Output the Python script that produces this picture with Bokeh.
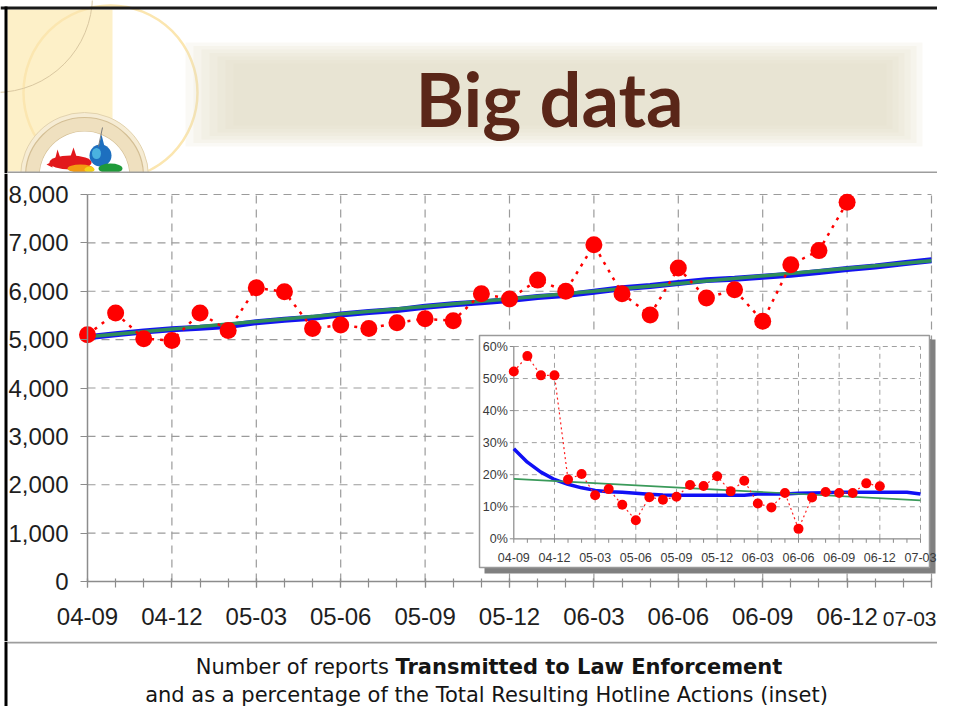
from bokeh.plotting import figure
from bokeh.models import Range1d, LinearAxis, FixedTicker, NumeralTickFormatter
from bokeh.layouts import column
from bokeh.core.properties import value
from bokeh.embed import file_html
from bokeh.resources import INLINE

# ---------------- data ----------------
title_text = "Big data"
caption_plain = "Number of reports "
caption_bold = "Transmitted to Law Enforcement"
caption_line2 = "and as a percentage of the Total Resulting Hotline Actions (inset)"

month_tick_labels = ["04-09", "04-12", "05-03", "05-06", "05-09", "05-12",
                     "06-03", "06-06", "06-09", "06-12", "07-03"]
month_tick_pos = [0, 3, 6, 9, 12, 15, 18, 21, 24, 27, 30]
all_months = list(range(31))
point_months = list(range(28))

reports = [5100, 5550, 5020, 4980, 5550, 5190, 6070, 5990, 5230, 5300,
           5230, 5350, 5430, 5390, 5950, 5840, 6230, 6000, 6960, 5950,
           5510, 6480, 5860, 6030, 5380, 6550, 6840, 7840]
reports_trend_blue = [5050, 5110, 5170, 5215, 5245, 5280, 5360, 5410, 5450, 5520,
                      5570, 5610, 5680, 5730, 5770, 5820, 5880, 5920, 5990, 6060,
                      6110, 6170, 6230, 6260, 6300, 6340, 6400, 6460, 6510, 6580, 6640]
reports_trend_green_months = [0, 30]
reports_trend_green = [5060, 6630]
main_y_ticks = [0, 1000, 2000, 3000, 4000, 5000, 6000, 7000, 8000]

share_pct = [52.2, 57.0, 51.0, 51.0, 18.5, 20.2, 13.6, 15.5, 10.6, 5.8,
             13.0, 12.2, 13.1, 16.8, 16.5, 19.5, 14.8, 18.1, 11.0, 9.8,
             14.3, 3.1, 12.9, 14.6, 14.3, 14.3, 17.3, 16.4]
share_trend_blue = [28.1, 23.9, 20.8, 18.5, 17.0, 15.9, 15.1, 14.7, 14.5, 14.2,
                    13.9, 13.7, 13.6, 13.6, 13.6, 13.6, 13.6, 13.6, 14.0, 14.0,
                    14.0, 14.2, 14.3, 14.4, 14.5, 14.5, 14.5, 14.5, 14.5, 14.5, 14.0]
share_trend_green_months = [0, 30]
share_trend_green = [18.7, 12.0]
inset_y_ticks = [0, 10, 20, 30, 40, 50, 60]
inset_y_labels = ["0%", "10%", "20%", "30%", "40%", "50%", "60%"]

# ---------------- layout (page pixel geometry) ----------------
W = 937
PX_L, PX_R = 0, 937
HDR_TOP, HDR_BOT = 0, 173
MAIN_TOP, MAIN_BOT = 173, 641
CAP_TOP, CAP_BOT = 641, 706

M_X0, M_X30 = 87.0, 931.0
M_Y0, M_Y8K = 581.0, 194.0
I_X0, I_X30 = 513.3, 920.0
I_Y0, I_Y60 = 538.3, 346.0


def mx(px):
    return (px - M_X0) / (M_X30 - M_X0) * 30


def my(py):
    return (M_Y0 - py) / (M_Y0 - M_Y8K) * 8000


def ix(px):
    return (px - I_X0) / (I_X30 - I_X0) * 30


def iy(py):
    return (I_Y0 - py) / (I_Y0 - I_Y60) * 60


def base_fig(h, xr, yr):
    f = figure(width=W, height=h, x_range=xr, y_range=yr,
               x_axis_type=None, y_axis_type=None, output_backend="svg",
               toolbar_location=None, min_border=0, title=None)
    f.outline_line_color = None
    f.background_fill_color = "white"
    f.border_fill_color = "white"
    return f


# ---------------- header ----------------
hdr = base_fig(HDR_BOT - HDR_TOP, Range1d(PX_L, PX_R), Range1d(HDR_BOT, HDR_TOP))
hdr.quad(left=7, right=112, top=9, bottom=171, fill_color="#fdf0c8", line_color=None)
hdr.circle(x=[110], y=[92], radius=87, fill_color=None, line_color="#fbe6b0", line_width=2.5)
hdr.circle(x=[-5], y=[-5], radius=97, fill_color=None, line_color="#d9c7a0", line_width=1)
for k in range(7):
    hdr.quad(left=185 + k * 8, right=922 - k * 6, top=42 + k * 3.5, bottom=146 - k * 3.5,
             fill_color="#e4d9c6", fill_alpha=0.17, line_color=None)
# logo
hdr.circle(x=[84], y=[176], radius=64, fill_color="#f6ecd4", line_color="#e2d2ad", line_width=1)
hdr.annulus(x=[84], y=[176], inner_radius=45, outer_radius=59,
            fill_color="#efe0bf", line_color="#d4bf95", line_width=1.2)
hdr.circle(x=[84], y=[176], radius=45, fill_color="white", line_color=None)
hdr.ellipse(x=[70], y=[162], width=42, height=14, fill_color="#e2181c", line_color=None)
hdr.patches(xs=[[54, 57, 61], [69, 73, 77], [46, 52, 52]],
            ys=[[161, 149, 161], [159, 147, 159], [164, 161, 167]],
            fill_color="#e2181c", line_color=None)
hdr.ellipse(x=[80], y=[168], width=26, height=8, fill_color="#f39a12", line_color=None)
hdr.ellipse(x=[89], y=[169], width=10, height=6, fill_color="#f4d21b", line_color=None)
hdr.ellipse(x=[100], y=[155], width=22, height=22, fill_color="#1d6fbf", line_color=None)
hdr.ellipse(x=[96], y=[153], width=9, height=11, fill_color="#4ab2e0", line_color=None)
hdr.patches(xs=[[98, 101, 104]], ys=[[146, 134, 146]], fill_color="#1d6fbf", line_color=None)
hdr.ellipse(x=[110], y=[168], width=24, height=10, fill_color="#1f9a3a", line_color=None)
hdr.segment(x0=[102], y0=[127], x1=[98], y1=[146], line_color="#7a7a7a", line_width=1)
# title
hdr.text(x=[549], y=[98], text=[title_text], text_font=value("Lato"),
         text_font_style="bold", text_font_size=value("74px"), text_color="#5a2618",
         text_align="center", text_baseline="middle")
# borders / separator
hdr.segment(x0=[PX_L], y0=[7.5], x1=[PX_R], y1=[7.5], line_color="#1a1a1a", line_width=3)
hdr.segment(x0=[5.5], y0=[HDR_TOP + 6], x1=[5.5], y1=[HDR_BOT], line_color="black", line_width=3)
hdr.segment(x0=[7], y0=[172], x1=[PX_R], y1=[172], line_color="#9d9d9d", line_width=2)

# ---------------- main chart ----------------
main = base_fig(MAIN_BOT - MAIN_TOP, Range1d(mx(PX_L), mx(PX_R)), Range1d(my(MAIN_BOT), my(MAIN_TOP)))
main.extra_x_ranges = {"ix": Range1d(ix(PX_L), ix(PX_R))}
main.extra_y_ranges = {"iy": Range1d(iy(MAIN_BOT), iy(MAIN_TOP))}

gx = month_tick_pos[1:]
main.segment(x0=gx, y0=[0] * len(gx), x1=gx, y1=[main_y_ticks[-1]] * len(gx),
             line_color="#9b9b9b", line_dash="8 6", line_width=1.2)
gy = main_y_ticks[1:]
main.segment(x0=[0] * len(gy), y0=gy, x1=[month_tick_pos[-1]] * len(gy), y1=gy,
             line_color="#9b9b9b", line_dash="8 6", line_width=1.2)

yaxis = LinearAxis(fixed_location=0, ticker=FixedTicker(ticks=main_y_ticks),
                   formatter=NumeralTickFormatter(format="0,0"),
                   bounds=(main_y_ticks[0], main_y_ticks[-1]))
yaxis.major_tick_in = 0
yaxis.major_tick_out = 7
yaxis.minor_tick_line_color = None
yaxis.major_label_standoff = 12
main.add_layout(yaxis, "left")

# the last month label sits at the page edge: drawn separately below so it stays inside
x_overrides = dict(zip(month_tick_pos[:-1], month_tick_labels[:-1]))
x_overrides[month_tick_pos[-1]] = ""
xaxis = LinearAxis(fixed_location=0,
                   ticker=FixedTicker(ticks=month_tick_pos, minor_ticks=all_months),
                   bounds=(month_tick_pos[0], month_tick_pos[-1]),
                   major_label_overrides=x_overrides)
xaxis.major_tick_in = 3
xaxis.major_tick_out = 6
xaxis.minor_tick_in = 3
xaxis.minor_tick_out = 6
xaxis.major_label_standoff = 20
main.add_layout(xaxis, "below")

for ax in (xaxis, yaxis):
    ax.axis_line_color = "#8c8c8c"
    ax.axis_line_width = 1.5
    ax.major_tick_line_color = "#8c8c8c"
    ax.major_tick_line_width = 1.2
    ax.major_label_text_font = "Liberation Sans"
    ax.major_label_text_font_size = "24px"
    ax.major_label_text_color = "#1e1e1e"
xaxis.minor_tick_line_color = "#8c8c8c"
xaxis.minor_tick_line_width = 1.2

main.text(x=month_tick_pos[-1:], y=[0], text=month_tick_labels[-1:],
          text_font=value("Liberation Sans"), text_font_size=value("21px"),
          text_color="#1e1e1e", text_align="right", text_baseline="middle",
          x_offset=PX_R - 1 - M_X30, y_offset=37)

main.line(all_months, reports_trend_blue, line_color="#1414f0", line_width=6)
main.line(reports_trend_green_months, reports_trend_green, line_color="#2f8f5a", line_width=3.5)
main.line(point_months, reports, line_color="#ff0000", line_width=2.5, line_dash="3 6")
main.scatter(point_months, reports, size=17, fill_color="#ff0000", line_color=None)

# left slide border
main.segment(x0=[mx(5.5)], y0=[my(MAIN_TOP)], x1=[mx(5.5)], y1=[my(MAIN_BOT)],
             line_color="black", line_width=3)

# ---------------- inset ----------------
kw = dict(x_range_name="ix", y_range_name="iy")
main.quad(left=ix(484), right=ix(935), top=iy(339), bottom=iy(573),
          fill_color="#808080", line_color=None, **kw)
main.quad(left=ix(479), right=ix(929), top=iy(335), bottom=iy(567),
          fill_color="white", line_color="#9a9a9a", line_width=1.5, **kw)

igx = month_tick_pos[1:]
main.segment(x0=igx, y0=[0] * len(igx), x1=igx, y1=[inset_y_ticks[-1]] * len(igx),
             line_color="#a0a0a0", line_dash="5 4", line_width=1, **kw)
igy = inset_y_ticks[1:]
main.segment(x0=[0] * len(igy), y0=igy, x1=[month_tick_pos[-1]] * len(igy), y1=igy,
             line_color="#a0a0a0", line_dash="5 4", line_width=1, **kw)
tick_v = 4 / (I_Y0 - I_Y60) * 60
tick_h = 4 / (I_X30 - I_X0) * 30
main.segment(x0=all_months, y0=[0] * 31, x1=all_months, y1=[-tick_v] * 31,
             line_color="#8a8a8a", line_width=1, **kw)
main.segment(x0=[0] * 7, y0=inset_y_ticks, x1=[-tick_h] * 7, y1=inset_y_ticks,
             line_color="#8a8a8a", line_width=1, **kw)
main.segment(x0=[0, 0], y0=[0, 0], x1=[0, month_tick_pos[-1]], y1=[inset_y_ticks[-1], 0],
             line_color="#8a8a8a", line_width=1.2, **kw)
ilab = dict(text_font=value("Liberation Sans"), text_font_size=value("12.5px"),
            text_color="#3a3a3a", text_baseline="middle")
main.text(x=month_tick_pos, y=[0] * len(month_tick_pos), text=month_tick_labels,
          text_align="center", y_offset=19, **ilab, **kw)
main.text(x=[0] * len(inset_y_ticks), y=inset_y_ticks, text=inset_y_labels,
          text_align="right", x_offset=-6, **ilab, **kw)

main.line(all_months, share_trend_blue, line_color="#1010f5", line_width=3.5, **kw)
main.line(share_trend_green_months, share_trend_green, line_color="#3a9a5a", line_width=1.6, **kw)
main.line(point_months, share_pct, line_color="#ff2020", line_width=1.2, line_dash="2 3", **kw)
main.scatter(point_months, share_pct, size=10, fill_color="#ff0000", line_color=None, **kw)

# ---------------- caption ----------------
cap = base_fig(CAP_BOT - CAP_TOP, Range1d(PX_L, PX_R), Range1d(CAP_BOT, CAP_TOP))
cap.segment(x0=[7], y0=[642], x1=[PX_R], y1=[642], line_color="#9d9d9d", line_width=2)
cap.segment(x0=[5.5], y0=[CAP_TOP], x1=[5.5], y1=[CAP_BOT], line_color="black", line_width=3)
cap_font = dict(text_font=value("DejaVu Sans"), text_font_size=value("21px"),
                text_color="#151515", text_baseline="middle")
cap.text(x=[395], y=[666], text=[caption_plain], text_align="right", **cap_font)
cap.text(x=[395], y=[666], text=[caption_bold], text_align="left",
         text_font_style="bold", **cap_font)
cap.text(x=[486], y=[694], text=[caption_line2], text_align="center", **cap_font)

layout = column(hdr, main, cap, spacing=0)
open("out.html", "w").write(file_html(layout, INLINE))
